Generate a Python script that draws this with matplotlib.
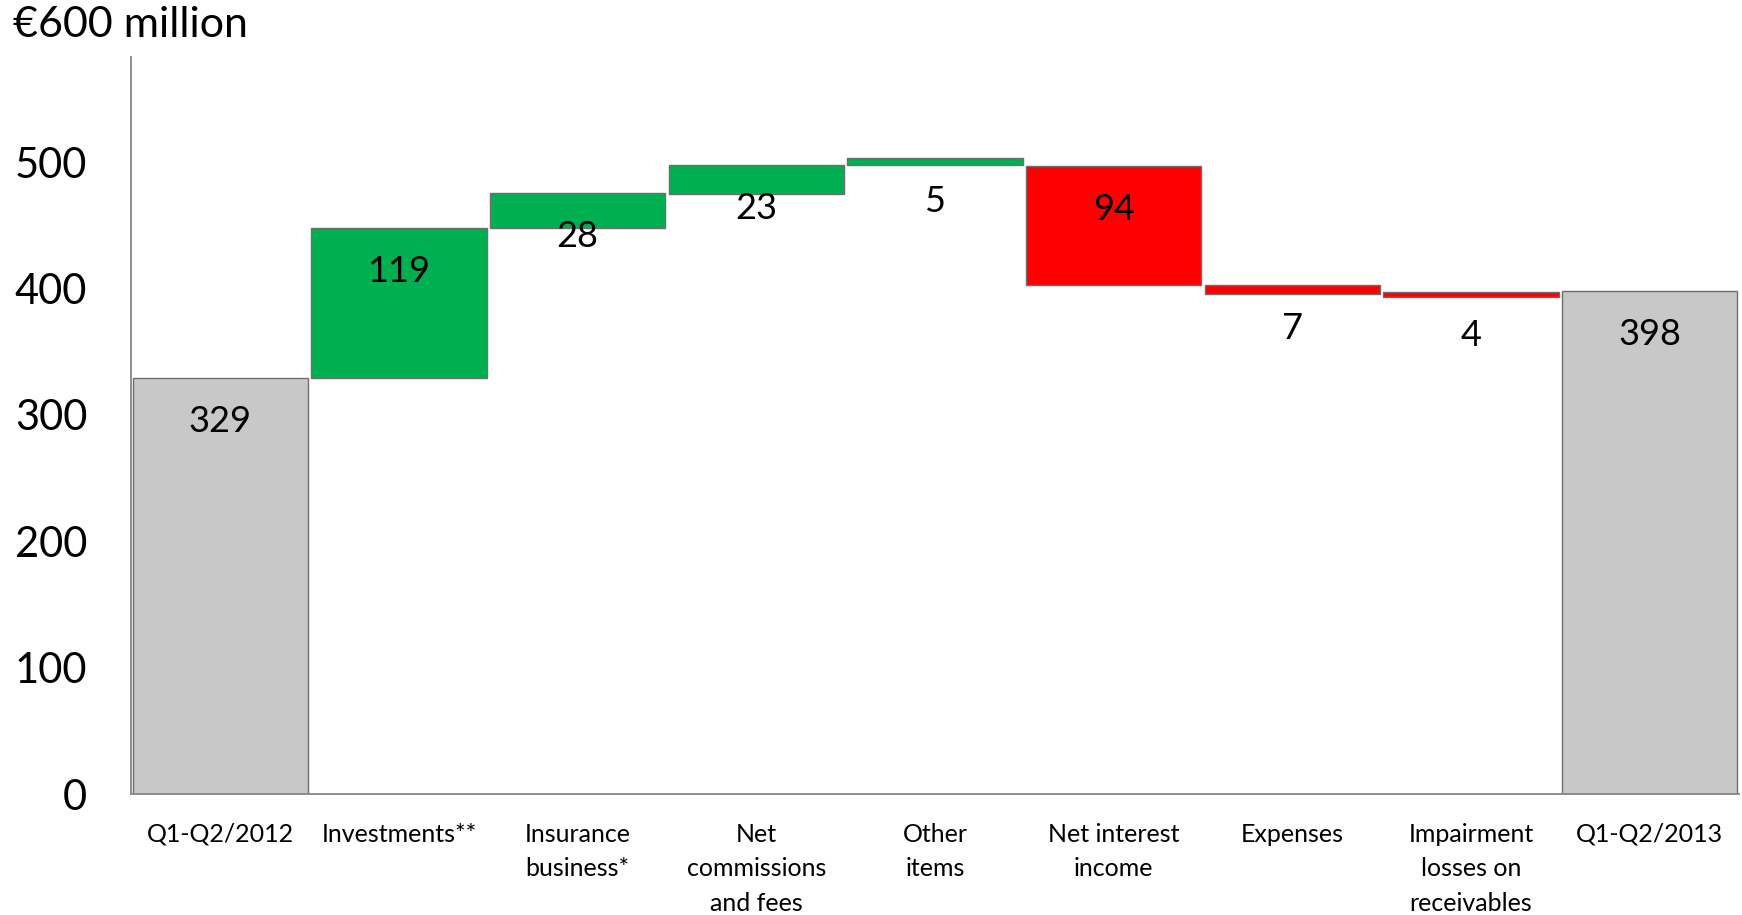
import matplotlib
matplotlib.use("Agg")
import matplotlib.pyplot as plt

# Profit bridge, Q1-Q2/2012 -> Q1-Q2/2013 (EUR million)
categories = ["Q1-Q2/2012", "Investments**", "Insurance\nbusiness*",
              "Net\ncommissions\nand fees", "Other\nitems", "Net interest\nincome",
              "Expenses", "Impairment\nlosses on\nreceivables", "Q1-Q2/2013"]
values = [329, 119, 28, 23, 5, 94, 7, 4, 398]
bar_floor = [0, 329, 448, 475, 498, 403, 396, 393, 0]
kind = ["total", "up", "up", "up", "up", "down", "down", "down", "total"]
y_ticks = [0, 100, 200, 300, 400, 500]
unit_label = "€600 million"

palette = {"total": "#C8C8C8", "up": "#00B050", "down": "#FF0000"}

plt.rcParams["font.family"] = ["Lato", "DejaVu Sans"]

W, H, DPI = 1742, 915, 100
fig = plt.figure(figsize=(W / DPI, H / DPI), dpi=DPI)
ax = fig.add_axes([131 / W, 1 - 794 / H, (1739 - 131) / W, (794 - 57.3) / H])

x = list(range(len(categories)))
ax.bar(x, values, bottom=bar_floor, width=0.983,
       color=[palette[k] for k in kind], edgecolor="#6E6E6E", linewidth=1.0,
       zorder=2)

# value labels sit a fixed distance below the top of each bar
for xi, v, b in zip(x, values, bar_floor):
    ax.annotate(str(v), xy=(xi, b + v), xytext=(0, -54),
                textcoords="offset pixels", ha="center", va="baseline",
                fontsize=26, color="black", zorder=3)

# category labels under the axis, first line aligned across all of them
for xi, name in zip(x, categories):
    ax.annotate(name, xy=(xi, 0), xycoords=("data", "axes fraction"),
                xytext=(0, -28.5), textcoords="offset pixels",
                ha="center", va="top", multialignment="center",
                fontsize=18, linespacing=1.63, color="black")

ax.set_xlim(-0.5, len(categories) - 0.5)
ax.set_ylim(0, 583)
ax.set_xticks([])
ax.set_yticks(y_ticks)
ax.set_yticklabels([str(t) for t in y_ticks], fontsize=30)
ax.tick_params(axis="y", length=0, pad=31.5)

for side in ("top", "right"):
    ax.spines[side].set_visible(False)
for side in ("left", "bottom"):
    ax.spines[side].set_color("#868686")
    ax.spines[side].set_linewidth(1.3)

fig.text(13 / W, 1 - 25 / H, unit_label, fontsize=31, ha="left", va="center")

fig.savefig("out.png", dpi=DPI)
